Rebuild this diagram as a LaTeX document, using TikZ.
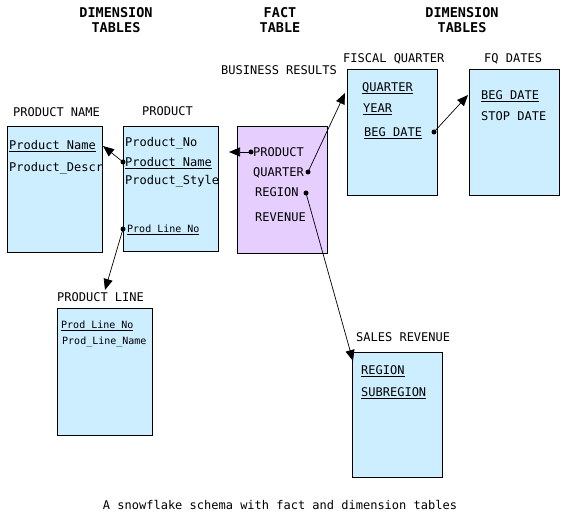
\documentclass[tikz,border=0pt]{standalone}
\usepackage{fontspec}
\setmainfont{DejaVu Sans Mono}
\usetikzlibrary{arrows.meta}
\definecolor{dimblue}{RGB}{204,238,255}
\definecolor{factpurple}{RGB}{230,206,255}
\newcommand\keyul[1]{\setbox0\hbox{#1}\rlap{\rule[-2.2pt]{\wd0}{0.7pt}}\box0}
\begin{document}
\begin{tikzpicture}[x=1pt,y=-1pt,
  tbl/.style={draw=black, line width=0.8pt, fill=dimblue, anchor=north west, inner sep=0pt},
  facttbl/.style={tbl, fill=factpurple},
  txt/.style={anchor=base west, inner sep=0pt, font=\fontsize{12}{14}\selectfont},
  sml/.style={anchor=base west, inner sep=0pt, font=\fontsize{10}{12}\selectfont},
  hdr/.style={anchor=north, inner sep=0pt, align=center, font=\bfseries\fontsize{13.5}{15}\selectfont},
  captxt/.style={anchor=base, inner sep=0pt, font=\fontsize{12}{14}\selectfont},
  dotn/.style={circle, fill=black, inner sep=0pt, minimum size=5pt},
  arr/.style={line width=0.7pt, -{Triangle[length=11pt,width=9pt]}}]
\useasboundingbox[fill=white] (0,0) rectangle (564,518);

% headers
\node[hdr] (h1) at (116,7.2) {DIMENSION\\TABLES};
\node[hdr] (h2) at (280,7.2) {FACT\\TABLE};
\node[hdr] (h3) at (462,7.2) {DIMENSION\\TABLES};

% table titles
\node[txt] (lbr) at (221,75) {BUSINESS RESULTS};
\node[txt] (lfq) at (343,63) {FISCAL QUARTER};
\node[txt] (lfqd) at (484,63) {FQ DATES};
\node[txt] (lpn) at (13,117) {PRODUCT NAME};
\node[txt] (lp) at (142,116) {PRODUCT};
\node[txt] (lpl) at (57,301) {PRODUCT LINE};
\node[txt] (lsr) at (356,341) {SALES REVENUE};

% boxes
\node[tbl, minimum width=95, minimum height=126] (pname) at (7,126) {};
\node[tbl, minimum width=95, minimum height=125] (prod) at (123,126) {};
\node[facttbl, minimum width=90, minimum height=127] (fact) at (237,126) {};
\node[tbl, minimum width=90, minimum height=126] (fq) at (347,69) {};
\node[tbl, minimum width=90, minimum height=126] (fqd) at (469,69) {};
\node[tbl, minimum width=95, minimum height=127] (pline) at (57,308) {};
\node[tbl, minimum width=90, minimum height=125] (sales) at (352,352) {};

% fields
\node[txt] (f1) at (9,150) {\keyul{Product\_Name}};
\node[txt] (f2) at (9,172) {Product\_Descr};
\node[txt] (f3) at (125,147) {Product\_No};
\node[txt] (f4) at (125,167) {\keyul{Product\_Name}};
\node[txt] (f5) at (125,185) {Product\_Style};
\node[sml] (f6) at (127,233) {\keyul{Prod\_Line\_No}};
\node[txt] (f7) at (253,157) {PRODUCT};
\node[txt] (f8) at (253,177) {QUARTER};
\node[txt] (f9) at (255,197) {REGION};
\node[txt] (f10) at (255,222) {REVENUE};
\node[txt] (f11) at (362,92) {\keyul{QUARTER}};
\node[txt] (f12) at (363,113) {\keyul{YEAR}};
\node[txt] (f13) at (364,137) {\keyul{BEG\_DATE}};
\node[txt] (f14) at (481,100) {\keyul{BEG\_DATE}};
\node[txt] (f15) at (481,121) {STOP DATE};
\node[sml] (f16) at (61,328) {\keyul{Prod\_Line\_No}};
\node[sml] (f17) at (62,344) {Prod\_Line\_Name};
\node[txt] (f18) at (361,374) {\keyul{REGION}};
\node[txt] (f19) at (361,396) {\keyul{SUBREGION}};

% caption
\node[captxt] (caption) at (280,509) {A snowflake schema with fact and dimension tables};

% dots and arrow targets
\node[dotn] (d1) at (123,162) {};
\node[dotn] (d2) at (251,152) {};
\node[dotn] (d3) at (308,172) {};
\node[dotn] (d4) at (434,132) {};
\node[dotn] (d5) at (123,229) {};
\node[dotn] (d6) at (306,193) {};
\coordinate (t1) at (103,146);
\coordinate (t2) at (229,152);
\coordinate (t3) at (345,93);
\coordinate (t4) at (468,95);
\coordinate (t5) at (105,290);
\coordinate (t6) at (353,361);

\draw[arr] (d1.center) -- (t1);
\draw[arr] (d2.center) -- (t2);
\draw[arr] (d3.center) -- (t3);
\draw[arr] (d4.center) -- (t4);
\draw[arr] (d5.center) -- (t5);
\draw[arr] (d6.center) -- (t6);
\end{tikzpicture}
\end{document}
